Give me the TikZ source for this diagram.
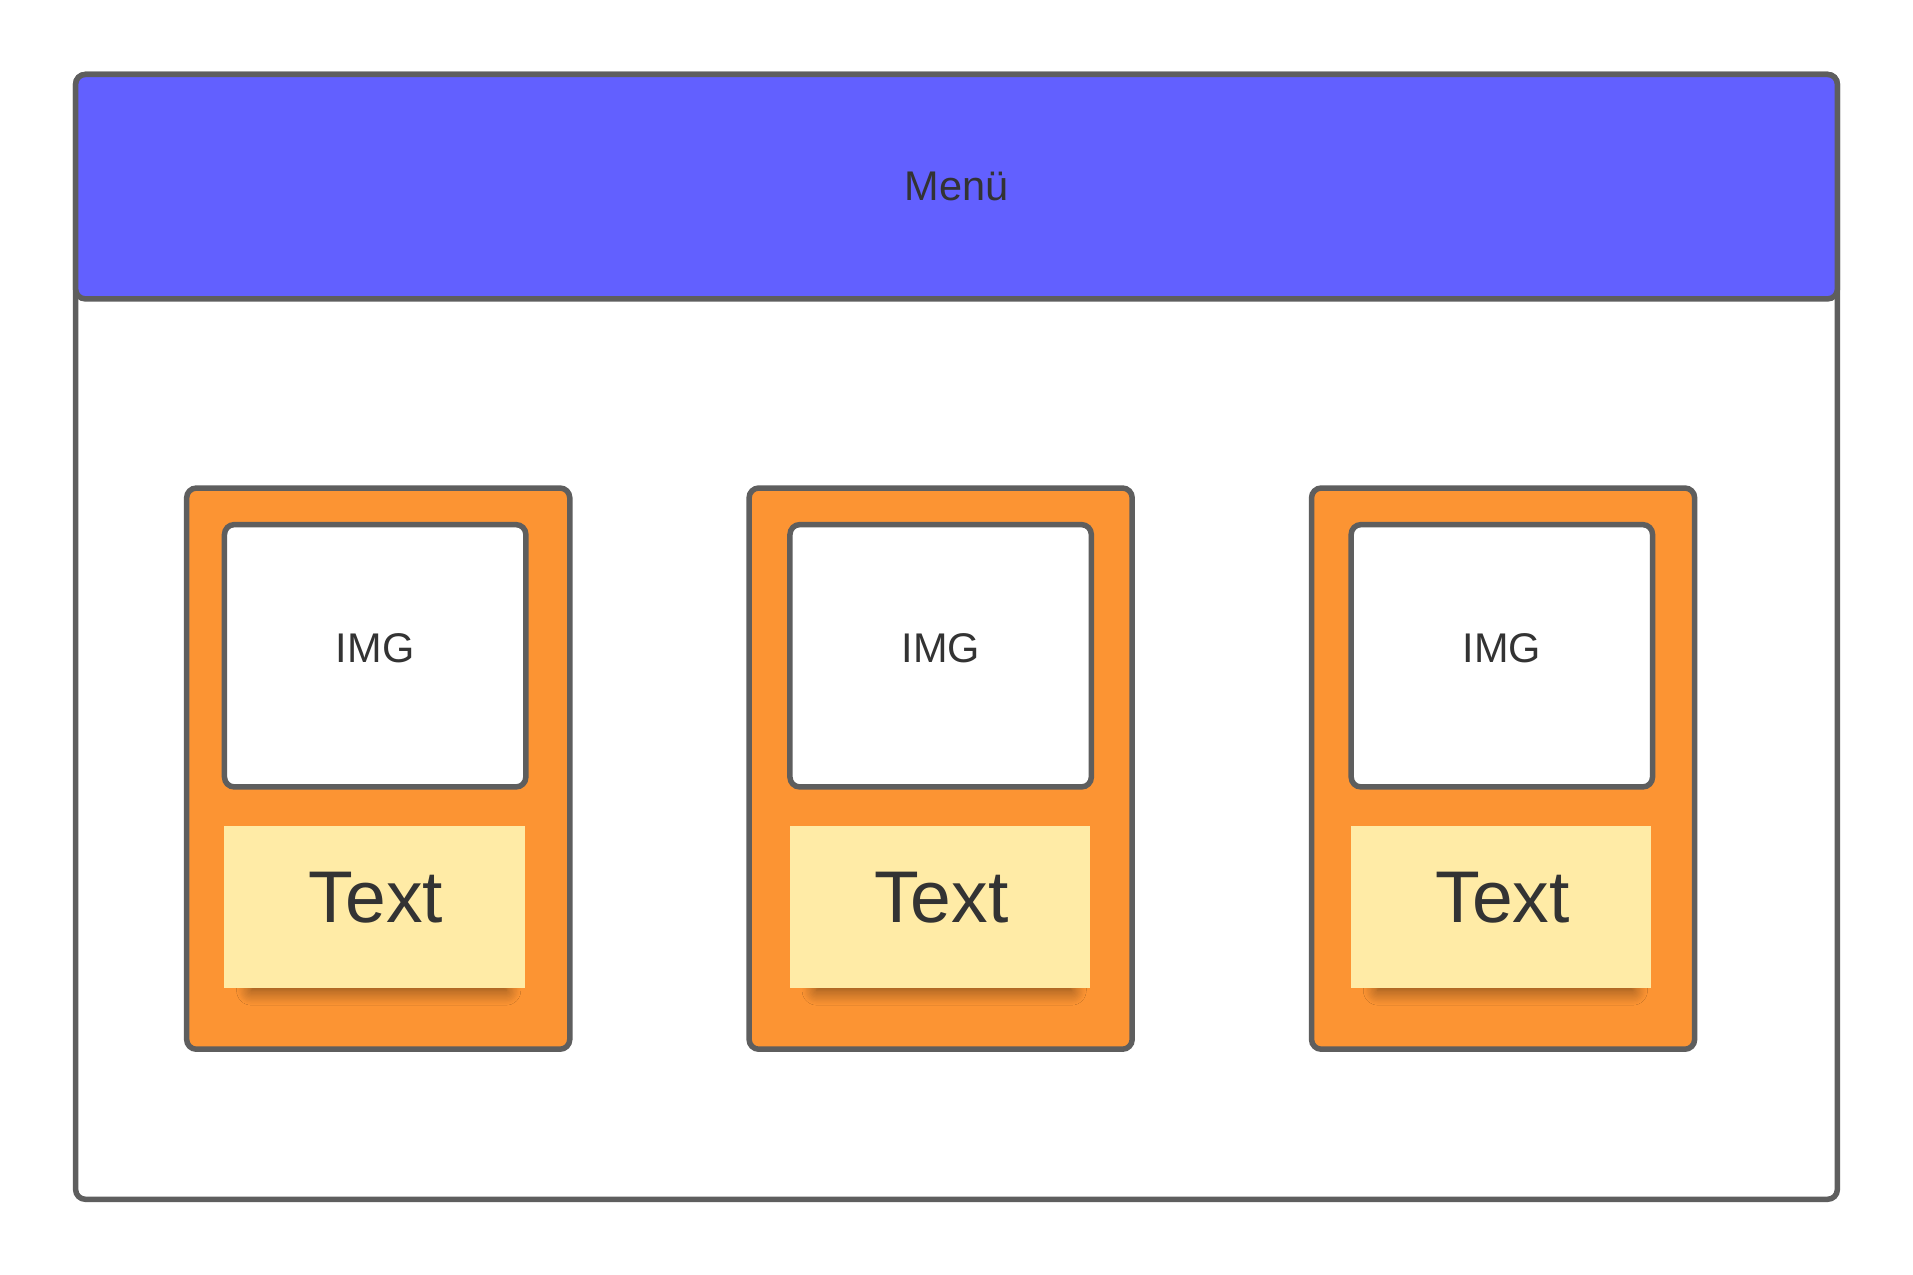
\documentclass[tikz,border=0pt]{standalone}
\usepackage{fontspec}
\setmainfont{Liberation Sans}
\usetikzlibrary{shadows.blur}
\definecolor{bordergray}{RGB}{94,94,94}
\definecolor{menublue}{RGB}{98,96,255}
\definecolor{cardorange}{RGB}{252,148,51}
\definecolor{notefill}{RGB}{255,235,166}
\definecolor{inktext}{RGB}{51,51,51}
\tikzset{
  framebox/.style={draw=bordergray, line width=4.5pt, rounded corners=8pt, inner sep=0pt},
  pagebox/.style={framebox, fill=white, minimum width=1444pt, minimum height=922pt},
  menubox/.style={framebox, fill=menublue, minimum width=1444pt, minimum height=184pt,
    text=inktext, font=\fontsize{34}{38}\selectfont},
  cardbox/.style={framebox, fill=cardorange, minimum width=314pt, minimum height=460pt},
  imgbox/.style={framebox, fill=white, minimum width=247pt, minimum height=215pt,
    text=inktext, font=\fontsize{34}{38}\selectfont, text depth=13pt},
  notebox/.style={fill=notefill, inner sep=0pt, minimum width=246pt, minimum height=133pt,
    text=inktext, font=\fontsize{60}{64}\selectfont, text depth=16pt,
    blur shadow={shadow xshift=4pt, shadow yshift=-14pt, shadow scale=0.85,
      shadow blur radius=14pt, shadow blur steps=12, shadow opacity=50}}
}
\begin{document}
\begin{tikzpicture}[x=1pt,y=-1pt]
\useasboundingbox[fill=white] (0,0) rectangle (1568,1045);
\node[pagebox] (page) at (784,522) {};
\node[menubox] (menu) at (784,153) {Menü};
\foreach \cx/\ix/\tx/\k in {310/307.5/307/1, 771/771/770.5/2, 1232/1231/1230.5/3}{
  \node[cardbox] (card\k) at (\cx,630) {};
  \node[imgbox] (img\k) at (\ix,537.5) {IMG};
  \node[notebox] (note\k) at (\tx,743.5) {\hspace*{2pt}Text};
}
\end{tikzpicture}
\end{document}
